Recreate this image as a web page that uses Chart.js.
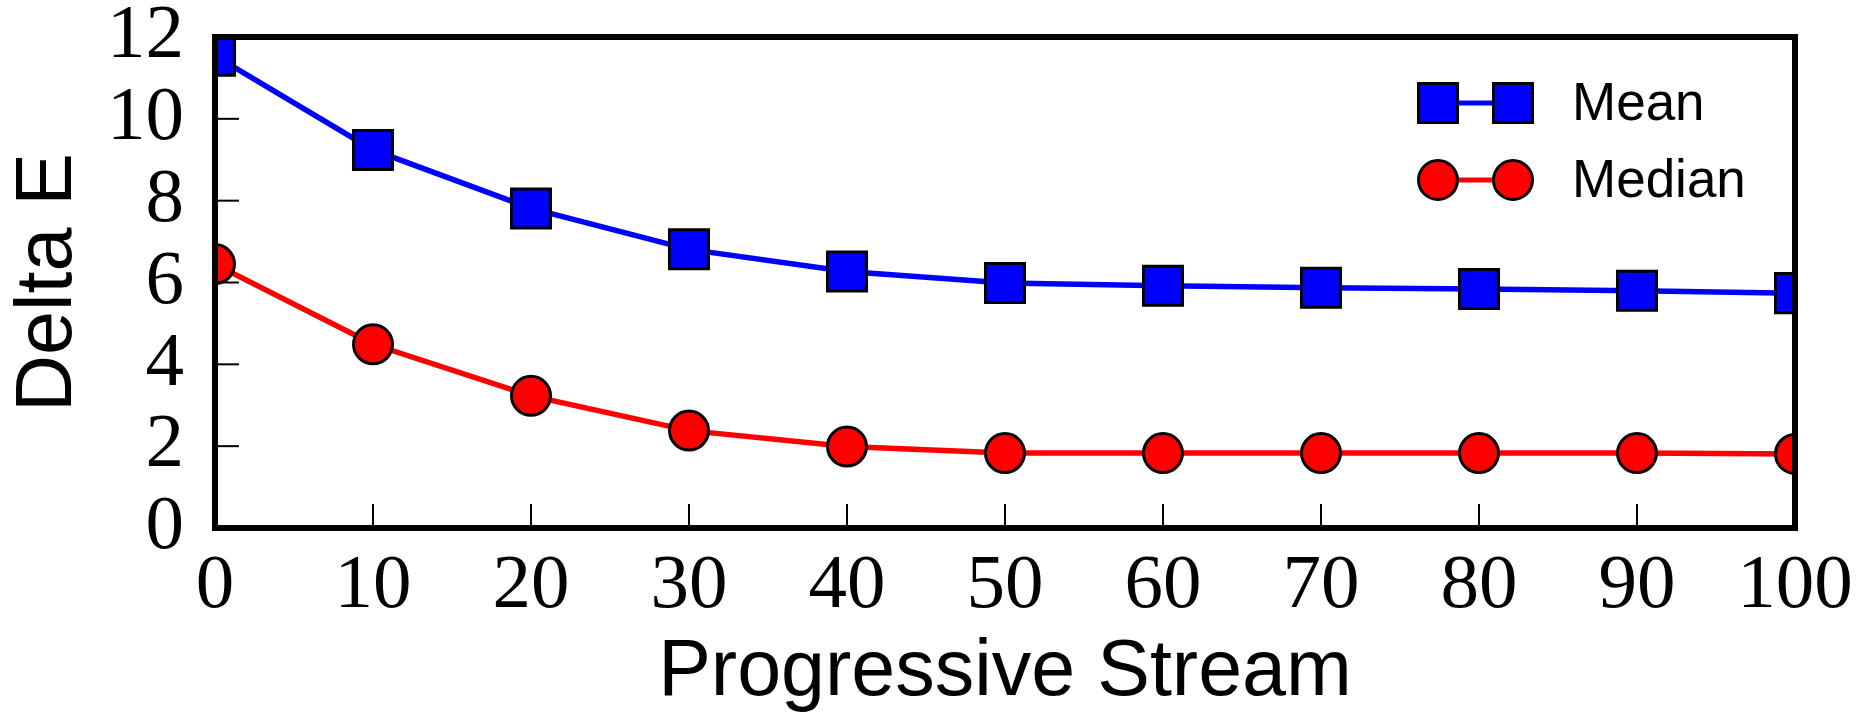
<!DOCTYPE html>
<html>
<head>
<meta charset="utf-8">
<title>Delta E - Progressive Stream</title>
<script src="https://cdn.jsdelivr.net/npm/chart.js@4/dist/chart.umd.min.js"></script>
<style>
    html, body { margin: 0; padding: 0; background: #ffffff; }
    #wrap { width: 1864px; height: 714px; }
</style>
</head>
<body>
<div id="wrap"><canvas id="deltaChart" width="1864" height="714"></canvas></div>
<script>
// ============================================
// DATA
// ============================================
const streamSteps = [0, 10, 20, 30, 40, 50, 60, 70, 80, 90, 100];
const meanValues = [11.54, 9.24, 7.81, 6.81, 6.27, 5.99, 5.92, 5.87, 5.84, 5.80, 5.74];
const medianValues = [6.45, 4.49, 3.23, 2.38, 1.99, 1.83, 1.83, 1.83, 1.83, 1.83, 1.81];
const xTicks = [0, 10, 20, 30, 40, 50, 60, 70, 80, 90, 100];
const yTicks = [0, 2, 4, 6, 8, 10, 12];
const seriesNames = ['Mean', 'Median'];

const toPoints = (vals) => streamSteps.map((x, i) => ({ x, y: vals[i] }));

// ========================================
// PLUGIN: frame + inward ticks (matplotlib look)
// ========================================
const frameTicks = {
    id: 'frameTicks',
    afterDatasetsDraw(chart) {
        const { ctx, chartArea: a, scales } = chart;
        ctx.save();
        ctx.strokeStyle = '#000';

        // ticks pointing into the plot
        ctx.lineWidth = 2;
        xTicks.forEach(v => {
            const px = scales.x.getPixelForValue(v);
            ctx.beginPath();
            ctx.moveTo(px, a.bottom);
            ctx.lineTo(px, a.bottom - 24);
            ctx.stroke();
        });
        yTicks.forEach(v => {
            const py = scales.y.getPixelForValue(v);
            ctx.beginPath();
            ctx.moveTo(a.left, py);
            ctx.lineTo(a.left + 24, py);
            ctx.stroke();
        });

        // box
        ctx.lineWidth = 6;
        ctx.strokeRect(a.left, a.top, a.right - a.left, a.bottom - a.top);
        ctx.restore();
    }
};

// ========================================
// PLUGIN: legend with two markers per entry
// ========================================
const pairLegend = {
    id: 'pairLegend',
    afterDraw(chart) {
        const { ctx, chartArea: a } = chart;
        const x1 = a.right - 357, x2 = a.right - 282, tx = a.right - 223;
        const rows = [a.top + 66, a.top + 143];

        ctx.save();
        chart.data.datasets.forEach((ds, i) => {
            const y = rows[i];
            ctx.strokeStyle = ds.borderColor;
            ctx.lineWidth = 5;
            ctx.beginPath();
            ctx.moveTo(x1, y);
            ctx.lineTo(x2, y);
            ctx.stroke();

            [x1, x2].forEach(x => {
                ctx.fillStyle = ds.pointBackgroundColor;
                ctx.strokeStyle = '#000';
                ctx.lineWidth = 3;
                ctx.beginPath();
                if (ds.pointStyle === 'rect') {
                    ctx.rect(x - 19.5, y - 19.5, 39, 39);
                } else {
                    ctx.arc(x, y, 19.5, 0, Math.PI * 2);
                }
                ctx.fill();
                ctx.stroke();
            });

            ctx.fillStyle = '#000';
            ctx.font = '53px "Liberation Sans", Arial, sans-serif';
            ctx.textBaseline = 'middle';
            ctx.textAlign = 'left';
            ctx.fillText(ds.label, tx, y + 2);
        });
        ctx.restore();
    }
};

// ========================================
// CHART
// ========================================
const tickFont = { family: '"Liberation Serif", "Times New Roman", serif', size: 77 };
const titleFont = { family: '"Liberation Sans", Arial, sans-serif', size: 79, lineHeight: 1 };

new Chart(document.getElementById('deltaChart'), {
    type: 'line',
    data: {
        datasets: [
            {
                label: seriesNames[0],
                data: toPoints(meanValues),
                borderColor: '#0000ff',
                borderWidth: 5.5,
                pointStyle: 'rect',
                pointRadius: 27.6,
                pointBackgroundColor: '#0000ff',
                pointBorderColor: '#000000',
                pointBorderWidth: 3,
                clip: 0
            },
            {
                label: seriesNames[1],
                data: toPoints(medianValues),
                borderColor: '#ff0000',
                borderWidth: 5.5,
                pointStyle: 'circle',
                pointRadius: 19.5,
                pointBackgroundColor: '#ff0000',
                pointBorderColor: '#000000',
                pointBorderWidth: 3,
                clip: 0
            }
        ]
    },
    options: {
        responsive: false,
        animation: false,
        layout: { padding: { top: 37, right: 69, left: 0, bottom: 0 } },
        plugins: {
            legend: { display: false },
            tooltip: { enabled: false }
        },
        scales: {
            x: {
                type: 'linear',
                min: 0,
                max: 100,
                afterBuildTicks: (s) => { s.ticks = xTicks.map(v => ({ value: v })); },
                afterFit: (s) => { s.height = 186; s.paddingLeft = 0; s.paddingRight = 0; },
                grid: { display: false, drawTicks: false },
                border: { display: false },
                ticks: { color: '#000', font: tickFont, padding: 13, maxRotation: 0, autoSkip: false },
                title: { display: true, text: 'Progressive Stream', color: '#000', font: titleFont, padding: { top: 0, bottom: 1 } }
            },
            y: {
                type: 'linear',
                min: 0,
                max: 12,
                afterBuildTicks: (s) => { s.ticks = yTicks.map(v => ({ value: v })); },
                afterFit: (s) => { s.width = 215; s.paddingTop = 0; s.paddingBottom = 0; },
                grid: { display: false, drawTicks: false },
                border: { display: false },
                ticks: { color: '#000', font: tickFont, padding: 31, autoSkip: false },
                title: { display: true, text: 'Delta E', color: '#000', font: titleFont, padding: { top: 10, bottom: 0 } }
            }
        }
    },
    plugins: [frameTicks, pairLegend]
});
</script>
</body>
</html>
